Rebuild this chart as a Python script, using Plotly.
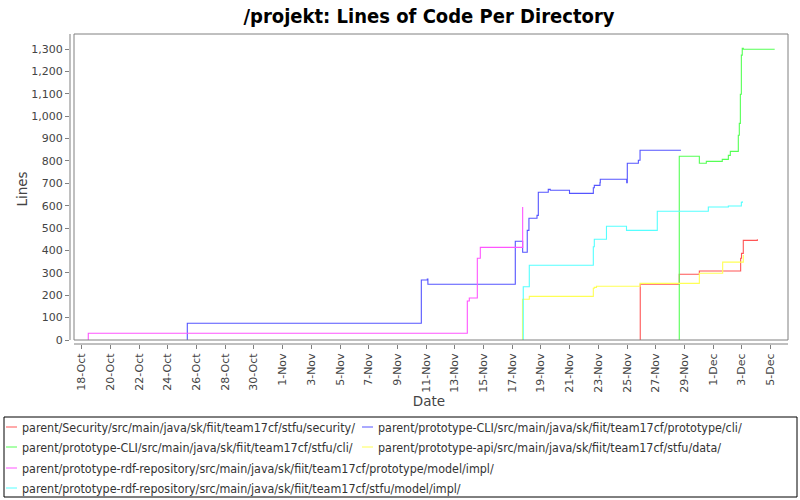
import plotly.graph_objects as go
import pandas as pd

# ---------------- data ----------------
series_names = [
    "parent/Security/src/main/java/sk/fiit/team17cf/stfu/security/",
    "parent/prototype-CLI/src/main/java/sk/fiit/team17cf/prototype/cli/",
    "parent/prototype-CLI/src/main/java/sk/fiit/team17cf/stfu/cli/",
    "parent/prototype-api/src/main/java/sk/fiit/team17cf/stfu/data/",
    "parent/prototype-rdf-repository/src/main/java/sk/fiit/team17cf/prototype/model/impl/",
    "parent/prototype-rdf-repository/src/main/java/sk/fiit/team17cf/stfu/model/impl/",
]
series_colors = ["#FF5555", "#5555FF", "#55FF55", "#FFFF55", "#FF55FF", "#55FFFF"]

security_dates = ["2017-11-25 22:10", "2017-11-25 22:10", "2017-11-28 15:25", "2017-11-30 01:00",
                  "2017-12-02 22:05", "2017-12-02 23:30", "2017-12-03 02:30", "2017-12-04 02:00"]
security_lines = [0, 249, 294, 308, 365, 387, 445, 450]

proto_cli_dates = ["2017-10-25 08:37", "2017-10-25 08:37", "2017-11-10 16:00", "2017-11-11 02:00",
                   "2017-11-11 03:00", "2017-11-17 05:10", "2017-11-17 17:30", "2017-11-18 01:10",
                   "2017-11-18 04:00", "2017-11-18 17:30", "2017-11-18 19:40", "2017-11-19 12:20",
                   "2017-11-19 15:40", "2017-11-20 23:50", "2017-11-22 15:40", "2017-11-22 17:20",
                   "2017-11-23 02:50", "2017-11-23 03:20", "2017-11-24 23:30", "2017-11-25 00:30",
                   "2017-11-25 19:00", "2017-11-25 21:50", "2017-11-28 18:15"]
proto_cli_lines = [0, 75, 268, 272, 249, 441, 392, 490, 544, 557, 660, 673, 669, 655, 680, 691,
                   703, 718, 703, 790, 803, 848, 848]

stfu_cli_dates = ["2017-11-28 15:25", "2017-11-28 15:25", "2017-11-30 01:00", "2017-11-30 12:40",
                  "2017-12-01 15:20", "2017-12-02 01:30", "2017-12-02 04:50", "2017-12-02 18:10",
                  "2017-12-02 19:50", "2017-12-02 21:35", "2017-12-02 23:15", "2017-12-03 00:45",
                  "2017-12-03 02:30", "2017-12-05 07:00"]
stfu_cli_lines = [0, 821, 790, 798, 807, 825, 843, 915, 968, 1098, 1273, 1303, 1299, 1299]

api_data_dates = ["2017-11-17 17:15", "2017-11-17 17:15", "2017-11-18 04:35", "2017-11-22 15:40",
                  "2017-11-22 17:20", "2017-11-22 21:00", "2017-11-25 21:50", "2017-11-30 01:00",
                  "2017-12-01 16:00", "2017-12-03 02:30"]
api_data_lines = [0, 182, 195, 231, 235, 240, 253, 298, 348, 380]

rdf_proto_dates = ["2017-10-18 11:00", "2017-10-18 11:00", "2017-11-13 20:55", "2017-11-14 00:15",
                   "2017-11-14 13:40", "2017-11-14 18:40", "2017-11-17 17:30"]
rdf_proto_lines = [0, 30, 174, 188, 365, 414, 594]

rdf_stfu_dates = ["2017-11-17 18:30", "2017-11-17 18:30", "2017-11-18 04:35", "2017-11-22 15:40",
                  "2017-11-22 17:20", "2017-11-23 13:40", "2017-11-24 23:10", "2017-11-27 02:40",
                  "2017-11-30 16:00", "2017-12-02 01:30", "2017-12-02 23:15", "2017-12-03 00:45"]
rdf_stfu_lines = [0, 238, 334, 417, 450, 508, 490, 575, 594, 599, 615, 620]

all_dates = [security_dates, proto_cli_dates, stfu_cli_dates, api_data_dates, rdf_proto_dates, rdf_stfu_dates]
all_lines = [security_lines, proto_cli_lines, stfu_cli_lines, api_data_lines, rdf_proto_lines, rdf_stfu_lines]

# ---------------- layout geometry ----------------
W, H = 800, 500
L, R, T, B = 70, 788, 34, 344          # plot area in pixels (axis lines)
PX_PER_DAY = 14.35
X_ORIGIN_PX = 81.7                      # pixel of 18-Oct 00:00
ZERO_PX = 340.0
PX_PER_LINE = 0.2238

origin = pd.Timestamp("2017-10-18")
x_left = origin + pd.Timedelta(days=(L - X_ORIGIN_PX) / PX_PER_DAY)
x_right = origin + pd.Timedelta(days=(R - X_ORIGIN_PX) / PX_PER_DAY)
y_bottom = (ZERO_PX - B) / PX_PER_LINE
y_top = (ZERO_PX - T) / PX_PER_LINE


def px(xp):
    return (xp - L) / (R - L)


def py(yp):
    return (B - yp) / (B - T)


fig = go.Figure()
for name, color, d, v in zip(series_names, series_colors, all_dates, all_lines):
    fig.add_trace(go.Scatter(x=d, y=v, mode="lines", name=name, line_shape="hv",
                             line=dict(color=color, width=1.1), showlegend=False))

FONT = "DejaVu Sans"
FONT_C = "DejaVu Sans Condensed, Liberation Sans Narrow, DejaVu Sans"
GRAY = "#808080"

shapes = [
    # plot border
    dict(type="rect", xref="paper", yref="paper", x0=px(74), x1=px(788), y0=py(340), y1=py(34),
         line=dict(color=GRAY, width=1)),
    # y axis line
    dict(type="line", xref="paper", yref="paper", x0=0, x1=0, y0=py(340), y1=py(34),
         line=dict(color=GRAY, width=1)),
    # x axis line
    dict(type="line", xref="paper", yref="paper", x0=px(74), x1=px(788), y0=0, y1=0,
         line=dict(color=GRAY, width=1)),
    # legend box
    dict(type="rect", xref="paper", yref="paper", x0=px(4), x1=px(797), y0=py(497), y1=py(417),
         line=dict(color="black", width=1)),
]

annotations = []
legend_pos = [(6, 427), (362, 427), (6, 447), (362, 447), (6, 468), (6, 488)]
for name, color, (lx, ly) in zip(series_names, series_colors, legend_pos):
    shapes.append(dict(type="line", xref="paper", yref="paper", x0=px(lx), x1=px(lx + 11),
                       y0=py(ly), y1=py(ly), line=dict(color=color, width=1)))
    annotations.append(dict(xref="paper", yref="paper", x=px(lx + 14), y=py(ly), text=name,
                            showarrow=False, xanchor="left", yanchor="middle",
                            font=dict(family=FONT_C, size=12.4, color="#333333")))

fig.update_layout(
    width=W, height=H,
    margin=dict(l=L, r=W - R, t=T, b=H - B, pad=0),
    paper_bgcolor="white", plot_bgcolor="white",
    hovermode=False,
    title=dict(text="/projekt: Lines of Code Per Directory", x=0.5, xref="paper", xanchor="center",
               y=1 - 16 / H, yref="container", yanchor="middle",
               font=dict(family=FONT_C, size=20, color="black", weight="bold")),
    xaxis=dict(type="date", range=[x_left, x_right], showgrid=False, zeroline=False, showline=False,
               tick0="2017-10-18", dtick=2 * 86400000, tickformat="%-d-%b", tickangle=-90,
               ticks="outside", ticklen=4, tickcolor=GRAY,
               tickfont=dict(family=FONT, size=11, color="#444444"),
               title=dict(text="Date", font=dict(family=FONT, size=13.5, color="#444444"), standoff=3)),
    yaxis=dict(range=[y_bottom, y_top], showgrid=False, zeroline=False, showline=False,
               tick0=0, dtick=100, tickformat=",d", ticks="outside", ticklen=4, tickcolor=GRAY,
               tickfont=dict(family=FONT, size=11, color="#444444"),
               title=dict(text="Lines", font=dict(family=FONT, size=13.5, color="#444444"), standoff=0)),
    shapes=shapes,
    annotations=annotations,
)

fig.write_html("out.html", config={"displayModeBar": False},
               post_script="document.body.style.margin='0';")
